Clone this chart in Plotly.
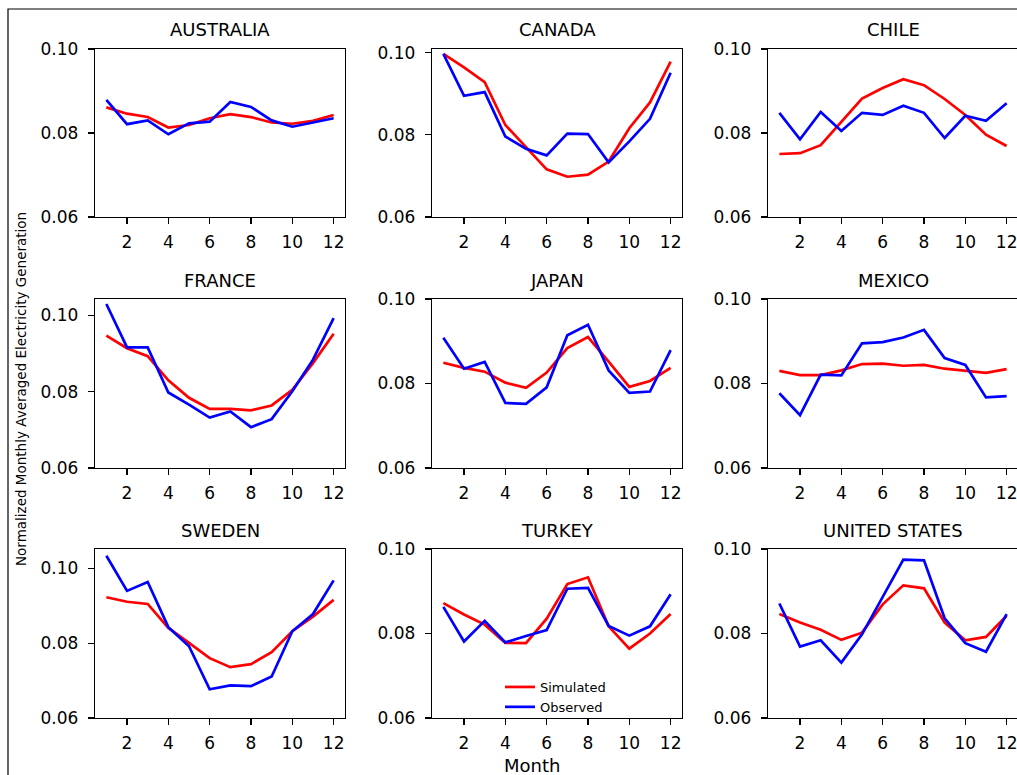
import plotly.graph_objects as go

W, H = 1030, 775  # page viewport is 1017 wide; the rightmost column is cut, as in the original

months = list(range(1, 13))
countries = ["AUSTRALIA", "CANADA", "CHILE", "FRANCE", "JAPAN", "MEXICO",
             "SWEDEN", "TURKEY", "UNITED STATES"]

sim_australia = [0.0861, 0.0846, 0.0838, 0.0813, 0.0819, 0.0835, 0.0845, 0.0838, 0.0825, 0.0822, 0.0829, 0.0843]
obs_australia = [0.0879, 0.0821, 0.0830, 0.0797, 0.0823, 0.0827, 0.0874, 0.0862, 0.0830, 0.0815, 0.0825, 0.0835]
sim_canada = [0.0997, 0.0964, 0.0928, 0.0824, 0.0770, 0.0716, 0.0698, 0.0703, 0.0735, 0.0816, 0.0879, 0.0978]
obs_canada = [0.0997, 0.0895, 0.0904, 0.0796, 0.0766, 0.0750, 0.0803, 0.0802, 0.0733, 0.0784, 0.0839, 0.0951]
sim_chile = [0.0750, 0.0752, 0.0771, 0.0827, 0.0882, 0.0907, 0.0928, 0.0914, 0.0881, 0.0843, 0.0796, 0.0769]
obs_chile = [0.0848, 0.0785, 0.0850, 0.0805, 0.0848, 0.0843, 0.0865, 0.0848, 0.0788, 0.0841, 0.0829, 0.0871]
sim_france = [0.0947, 0.0914, 0.0893, 0.0830, 0.0784, 0.0755, 0.0755, 0.0751, 0.0764, 0.0805, 0.0875, 0.0952]
obs_france = [0.1030, 0.0916, 0.0916, 0.0798, 0.0766, 0.0732, 0.0748, 0.0707, 0.0728, 0.0801, 0.0884, 0.0993]
sim_japan = [0.0849, 0.0837, 0.0828, 0.0802, 0.0790, 0.0826, 0.0884, 0.0910, 0.0852, 0.0792, 0.0806, 0.0837]
obs_japan = [0.0908, 0.0835, 0.0851, 0.0754, 0.0752, 0.0791, 0.0914, 0.0939, 0.0831, 0.0778, 0.0781, 0.0879]
sim_mexico = [0.0830, 0.0820, 0.0820, 0.0831, 0.0846, 0.0847, 0.0842, 0.0844, 0.0835, 0.0830, 0.0825, 0.0834]
obs_mexico = [0.0777, 0.0725, 0.0821, 0.0819, 0.0895, 0.0898, 0.0909, 0.0927, 0.0860, 0.0844, 0.0767, 0.0770]
sim_sweden = [0.0923, 0.0911, 0.0905, 0.0841, 0.0801, 0.0760, 0.0736, 0.0744, 0.0776, 0.0832, 0.0871, 0.0916]
obs_sweden = [0.1034, 0.0940, 0.0964, 0.0843, 0.0792, 0.0677, 0.0687, 0.0685, 0.0711, 0.0832, 0.0878, 0.0968]
sim_turkey = [0.0872, 0.0845, 0.0821, 0.0778, 0.0777, 0.0835, 0.0917, 0.0933, 0.0817, 0.0764, 0.0800, 0.0846]
obs_turkey = [0.0863, 0.0781, 0.0830, 0.0779, 0.0794, 0.0808, 0.0906, 0.0908, 0.0818, 0.0795, 0.0817, 0.0893]
sim_us = [0.0846, 0.0826, 0.0809, 0.0785, 0.0802, 0.0869, 0.0914, 0.0907, 0.0826, 0.0784, 0.0792, 0.0842]
obs_us = [0.0871, 0.0769, 0.0784, 0.0731, 0.0798, 0.0885, 0.0975, 0.0973, 0.0836, 0.0777, 0.0757, 0.0846]

simulated = [sim_australia, sim_canada, sim_chile, sim_france, sim_japan, sim_mexico,
             sim_sweden, sim_turkey, sim_us]
observed = [obs_australia, obs_canada, obs_chile, obs_france, obs_japan, obs_mexico,
            obs_sweden, obs_turkey, obs_us]
y_tops = [0.10, 0.1009, 0.10, 0.1043, 0.10, 0.10, 0.1052, 0.10, 0.10]
x_ticks = [2, 4, 6, 8, 10, 12]
y_ticks = [0.06, 0.08, 0.10]

# pixel geometry of the axes boxes
col_x = [(95, 345), (432, 682), (768, 1018)]
row_y = [(49, 217), (299, 468), (549, 718)]
title_y = [29, 280, 530]

FONT = "DejaVu Sans"
fig = go.Figure()
layout = dict(
    width=W, height=H,
    margin=dict(l=0, r=0, t=0, b=0, autoexpand=False),
    paper_bgcolor="white", plot_bgcolor="white",
    font=dict(family=FONT, color="black", size=16),
    showlegend=True, hovermode=False,
    legend=dict(x=500 / W, y=1 - 672 / H, xanchor="left", yanchor="top",
                bgcolor="rgba(0,0,0,0)", borderwidth=0,
                font=dict(size=13, family=FONT)),
)
annotations = []

for i, name in enumerate(countries):
    r, c = divmod(i, 3)
    idx = "" if i == 0 else str(i + 1)
    x0, x1 = col_x[c]
    y0, y1 = row_y[r]
    showleg = (i == 7)
    fig.add_trace(go.Scatter(x=months, y=simulated[i], mode="lines", name="Simulated",
                             line=dict(color="#ff0000", width=2.7), showlegend=showleg,
                             xaxis="x" + idx, yaxis="y" + idx))
    fig.add_trace(go.Scatter(x=months, y=observed[i], mode="lines", name="Observed",
                             line=dict(color="#0000ff", width=2.7), showlegend=showleg,
                             xaxis="x" + idx, yaxis="y" + idx))
    layout["xaxis" + idx] = dict(
        domain=[x0 / W, x1 / W], anchor="y" + idx, range=[0.45, 12.55],
        tickvals=x_ticks, ticks="outside", ticklen=6, tickwidth=1.2, tickcolor="black",
        showline=True, linecolor="black", linewidth=1.3, mirror=True,
        showgrid=False, zeroline=False, tickfont=dict(size=17),
        ticklabelstandoff=3, automargin=False,
    )
    layout["yaxis" + idx] = dict(
        domain=[1 - y1 / H, 1 - y0 / H], anchor="x" + idx, range=[0.06, y_tops[i]],
        tickvals=y_ticks, tickformat=".2f", ticks="outside", ticklen=6, tickwidth=1.2,
        tickcolor="black", showline=True, linecolor="black", linewidth=1.3,
        mirror=True, showgrid=False, zeroline=False, tickfont=dict(size=17),
        ticklabelstandoff=6, automargin=False,
    )
    annotations.append(dict(text=name, x=(x0 + x1) / 2 / W, y=1 - title_y[r] / H,
                            xref="paper", yref="paper", xanchor="center", yanchor="middle",
                            showarrow=False, font=dict(size=18, family=FONT)))

annotations.append(dict(text="Normalized Monthly Averaged Electricity Generation",
                        x=21 / W, y=1 - 389 / H, xref="paper", yref="paper",
                        xanchor="center", yanchor="middle", textangle=-90,
                        showarrow=False, font=dict(size=13.5, family=FONT)))
annotations.append(dict(text="Month", x=532 / W, y=1 - 765 / H, xref="paper", yref="paper",
                        xanchor="center", yanchor="middle", showarrow=False,
                        font=dict(size=18, family=FONT)))
layout["annotations"] = annotations
layout["shapes"] = [dict(type="rect", xref="paper", yref="paper",
                         x0=8 / W, x1=1.05, y0=-0.05, y1=1 - 9 / H,
                         line=dict(color="black", width=1.2), fillcolor="rgba(0,0,0,0)",
                         layer="below")]
fig.update_layout(**layout)
fig.write_html("out.html", config={"displayModeBar": False, "staticPlot": True},
               post_script="document.body.style.margin='0';document.body.style.overflow='hidden';")
